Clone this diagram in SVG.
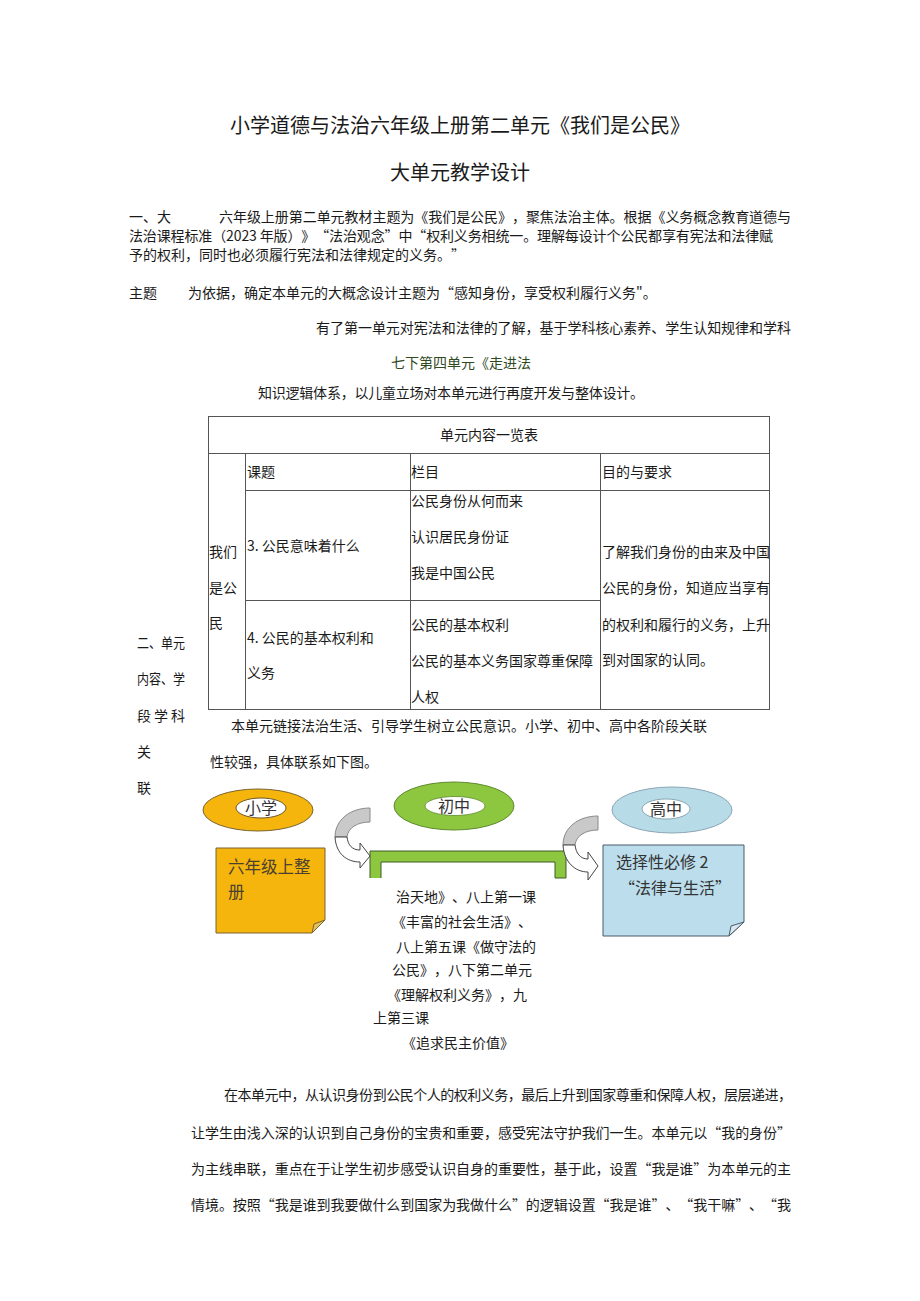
<svg xmlns="http://www.w3.org/2000/svg" width="920" height="1301" viewBox="0 0 920 1301" xml:lang="zh-CN" lang="zh-CN">
<style>
text{font-family:"Noto Sans CJK SC","Noto Sans",sans-serif;fill:#1a1a1a;font-size:14px;text-spacing-trim:space-all}
.t{font-size:20px}
.g{fill:#2f4a1f}
.cell{fill:none;stroke:#555;stroke-width:1}
.lbl{font-size:16px;fill:#333}
.nt{font-size:16.5px;fill:#4a4030}
.gray{fill:#c9c9c9;stroke:#8a8a8a;stroke-width:1}
.wht{fill:#fff;stroke:#444;stroke-width:1}
</style>
<rect width="920" height="1301" fill="#fff"/>

<g id="title">
<text class="t" x="460" y="132.6" text-anchor="middle">小学道德与法治六年级上册第二单元《我们是公民》</text>
<text class="t" x="460" y="179.6" text-anchor="middle">大单元教学设计</text>
</g>

<g id="para1">
<text x="129" y="222.3">一、大</text>
<text x="219" y="222.3" textLength="572" lengthAdjust="spacing">六年级上册第二单元教材主题为《我们是公民》，聚焦法治主体。根据《义务概念教育道德与</text>
<text x="129" y="241" textLength="644" lengthAdjust="spacing">法治课程标准（2023 年版）》“法治观念”中“权利义务相统一。理解每设计个公民都享有宪法和法律赋</text>
<text x="129" y="260">予的权利，同时也必须履行宪法和法律规定的义务。”</text>
<text x="129" y="298">主题</text>
<text x="188" y="298">为依据，确定本单元的大概念设计主题为“感知身份，享受权利履行义务"。</text>
<text x="316" y="333" textLength="475" lengthAdjust="spacing">有了第一单元对宪法和法律的了解，基于学科核心素养、学生认知规律和学科</text>
<text class="g" x="391" y="368">七下第四单元《走进法</text>
<text x="258" y="398" textLength="386" lengthAdjust="spacing">知识逻辑体系，以儿童立场对本单元进行再度开发与整体设计。</text>
</g>

<g id="side-label">
<text x="137" y="648" textLength="48" lengthAdjust="spacingAndGlyphs">二、单元</text>
<text x="137" y="684" textLength="48" lengthAdjust="spacingAndGlyphs">内容、学</text>
<text x="137 154 171" y="721">段学科</text>
<text x="137" y="757">关</text>
<text x="137" y="793">联</text>
</g>

<g id="table">
<rect class="cell" x="208.5" y="416.5" width="561" height="293"/>
<line class="cell" x1="208.5" y1="453.5" x2="769.5" y2="453.5"/>
<line class="cell" x1="245.5" y1="453.5" x2="245.5" y2="709.5"/>
<line class="cell" x1="410.5" y1="453.5" x2="410.5" y2="709.5"/>
<line class="cell" x1="600.5" y1="453.5" x2="600.5" y2="709.5"/>
<line class="cell" x1="245.5" y1="490.5" x2="769.5" y2="490.5"/>
<line class="cell" x1="245.5" y1="600.5" x2="600.5" y2="600.5"/>
<text x="489" y="440" text-anchor="middle">单元内容一览表</text>
<text x="247" y="477">课题</text>
<text x="411" y="477">栏目</text>
<text x="602" y="477">目的与要求</text>
<text x="209" y="557">我们</text>
<text x="209" y="593">是公</text>
<text x="209" y="628">民</text>
<text x="247" y="551">3. 公民意味着什么</text>
<text x="411" y="506">公民身份从何而来</text>
<text x="411" y="542">认识居民身份证</text>
<text x="411" y="578">我是中国公民</text>
<text x="247" y="643">4. 公民的基本权利和</text>
<text x="247" y="678">义务</text>
<text x="411" y="630">公民的基本权利</text>
<text x="411" y="666">公民的基本义务国家尊重保障</text>
<text x="411" y="702">人权</text>
<text x="602" y="557">了解我们身份的由来及中国</text>
<text x="602" y="593">公民的身份，知道应当享有</text>
<text x="602" y="630">的权利和履行的义务，上升</text>
<text x="602" y="665">到对国家的认同。</text>
</g>

<g id="para2">
<text x="231" y="731">本单元链接法治生活、引导学生树立公民意识。小学、初中、高中各阶段关联</text>
<text x="210" y="767">性较强，具体联系如下图。</text>
</g>

<g id="node-primary">
<ellipse cx="258" cy="810" rx="55" ry="21" fill="#F5B50C" stroke="#7a6530" stroke-width="1"/>
<ellipse cx="261" cy="808" rx="25" ry="10" fill="#fff" stroke="#6a5a30" stroke-width="1"/>
<text class="lbl" x="261" y="814" text-anchor="middle">小学</text>
<path d="M216,848 L325,848 L325,920 L312,933 L216,933 Z" fill="#F5B50C" stroke="#7a6530" stroke-width="1"/>
<path d="M325,920 L314,924 L312,933 Z" fill="#e0c060" stroke="#7a6530" stroke-width="1"/>
<text class="nt" x="228" y="873">六年级上整</text>
<text class="nt" x="228" y="898">册</text>
</g>

<g id="node-middle">
<ellipse cx="454" cy="806" rx="60" ry="24" fill="#8DC63F" stroke="#5f8a2e" stroke-width="1"/>
<ellipse cx="455" cy="806" rx="30" ry="9.5" fill="#fff" stroke="#5f8a2e" stroke-width="0.8"/>
<text class="lbl" x="454" y="812" text-anchor="middle">初中</text>
<path d="M370,878 L370,851 L566,851 L566,878 L555,878 L555,862 L381,862 L381,878" fill="#8DC63F" stroke="#3f5a2a" stroke-width="1"/>
<text x="396" y="902">治天地》、八上第一课</text>
<text x="392" y="927">《丰富的社会生活》、</text>
<text x="396" y="952">八上第五课《做守法的</text>
<text x="392" y="975">公民》，八下第二单元</text>
<text x="387" y="1000">《理解权利义务》，九</text>
<text x="373" y="1023">上第三课</text>
<text x="402" y="1048">《追求民主价值》</text>
</g>

<g id="node-high">
<ellipse cx="672" cy="810" rx="60" ry="23" fill="#B7DCE8" stroke="#8aa6b5" stroke-width="1"/>
<ellipse cx="666" cy="809" rx="24" ry="10" fill="#fff" stroke="#7a96a5" stroke-width="0.8"/>
<text class="lbl" x="666" y="815" text-anchor="middle">高中</text>
<path d="M603,845 L744,845 L744,922 L729,936 L603,936 Z" fill="#BCDDEC" stroke="#4a5a6a" stroke-width="1"/>
<path d="M744,922 L731,926 L729,936 Z" fill="#d8e8f0" stroke="#4a5a6a" stroke-width="1"/>
<text class="lbl" x="616" y="868">选择性必修 2</text>
<text class="lbl" x="619" y="894">“法律与生活”</text>
</g>

<g id="connectors">
<path class="gray" d="M370,808 C350,808 335,820 335,837 L347,837 C348,828 357,822 370,822 Z"/>
<path class="wht" d="M335,837 C336,854 347,862 360,862 L360,868 L370,856 L360,843 L360,850 C352,850 348,845 347,837 Z"/>
<path class="gray" d="M598,816 C578,816 563,828 563,845 L575,845 C576,836 585,830 598,830 Z"/>
<path class="wht" d="M563,845 C564,862 575,872 588,872 L588,880 L598,866 L588,852 L588,859 C580,859 576,853 575,845 Z"/>
</g>

<g id="para3">
<text x="224" y="1100" textLength="568" lengthAdjust="spacing">在本单元中，从认识身份到公民个人的权利义务，最后上升到国家尊重和保障人权，层层递进，</text>
<text x="191" y="1138" textLength="600" lengthAdjust="spacing">让学生由浅入深的认识到自己身份的宝贵和重要，感受宪法守护我们一生。本单元以“我的身份”</text>
<text x="191" y="1174" textLength="600" lengthAdjust="spacing">为主线串联，重点在于让学生初步感受认识自身的重要性，基于此，设置“我是谁”为本单元的主</text>
<text x="191" y="1210" textLength="600" lengthAdjust="spacing">情境。按照“我是谁到我要做什么到国家为我做什么”的逻辑设置“我是谁”、“我干嘛”、“我</text>
</g>
</svg>
